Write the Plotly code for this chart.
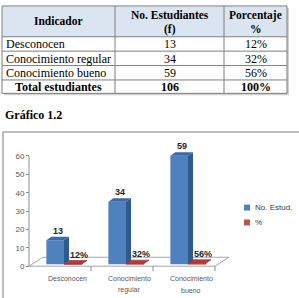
import plotly.graph_objects as go

# ---------------- data ----------------
header_labels = ["Indicador", "No. Estudiantes<br>(f)", "Porcentaje<br>%"]
indicators = ["Desconocen", "Conocimiento regular", "Conocimiento bueno"]
students = [13, 34, 59]
percents = [12, 32, 56]
total_label = "Total estudiantes"
total_students = 106
total_percent = 100

categories = ["Desconocen", "Conocimiento<br>regular", "Conocimiento<br>bueno"]
series_names = ["No. Estud.", "%"]
y_ticks = [0, 10, 20, 30, 40, 50, 60]
caption = "Gráfico 1.2"

# ---------------- geometry helpers ----------------
W, H = 299, 298
def px(x):
    return x / W
def py(y):
    return 1 - y / H

X0PX, XS = 29.0, 62.0      # pixel of x=0, px per category unit
Y0PX, YS = 268.0, 1.85     # pixel of y=0, px per value unit
xr = [-0.1, 3.45]
yr = [-1.5, 66.0]
xdom = [(X0PX + xr[0] * XS) / W, (X0PX + xr[1] * XS) / W]
ydom = [1 - (Y0PX - yr[0] * YS) / H, 1 - (Y0PX - yr[1] * YS) / H]

DX = 5.0 / XS     # depth offset in x units
DY = 3.5 / YS     # depth offset in y units
BASE = 2.0 / YS   # bars start slightly into the floor depth
B_OFF, B_W = -0.22, 0.285
R_OFF, R_W = 0.065, 0.29

centers = [i + 0.5 for i in range(len(categories))]
pct_vals = [p / 100 for p in percents]

SANS = "Liberation Sans, Arial, DejaVu Sans, sans-serif"
SERIF = "Liberation Serif, Times New Roman, DejaVu Serif, serif"

fig = go.Figure()

# front faces
fig.add_trace(go.Bar(x=centers, y=students, base=BASE, offset=B_OFF, width=B_W,
                     marker=dict(color="#4F81BD", line=dict(width=0)),
                     name=series_names[0], showlegend=False, hoverinfo="skip"))
fig.add_trace(go.Bar(x=centers, y=pct_vals, base=BASE, offset=R_OFF, width=R_W,
                     marker=dict(color="#C0504D", line=dict(width=0.6, color="#A13C39")),
                     name=series_names[1], showlegend=False, hoverinfo="skip"))

def faces(vals, off, w):
    side_x, side_y, top_x, top_y = [], [], [], []
    for c, v in zip(centers, vals):
        xl, xrr = c + off, c + off + w
        b, t = BASE, BASE + v
        side_x += [xrr, xrr + DX, xrr + DX, xrr, xrr, None]
        side_y += [b, b + DY, t + DY, t, b, None]
        top_x += [xl, xrr, xrr + DX, xl + DX, xl, None]
        top_y += [t, t, t + DY, t + DY, t, None]
    return side_x, side_y, top_x, top_y

sx, sy, tx, ty = faces(students, B_OFF, B_W)
fig.add_trace(go.Scatter(x=sx, y=sy, fill="toself", mode="lines", line=dict(width=0),
                         fillcolor="#2F5A8E", showlegend=False, hoverinfo="skip"))
fig.add_trace(go.Scatter(x=tx, y=ty, fill="toself", mode="lines", line=dict(width=0),
                         fillcolor="#3A69A6", showlegend=False, hoverinfo="skip"))
sx, sy, tx, ty = faces(pct_vals, R_OFF, R_W)
fig.add_trace(go.Scatter(x=tx, y=ty, fill="toself", mode="lines", line=dict(width=0.6, color="#8E2F2C"),
                         fillcolor="#B03F3B", showlegend=False, hoverinfo="skip"))

shapes = []
annotations = []

# floor (3D base)
FDX, FDY = 14.0 / XS, 9.0 / YS
ncat = len(categories)
floor_path = (f"M 0,0 L {ncat},0 L {ncat + FDX},{FDY} L {FDX},{FDY} Z")
shapes.append(dict(type="path", xref="x", yref="y", path=floor_path,
                   line=dict(color="#A6A6A6", width=1), fillcolor="rgba(0,0,0,0)", layer="below"))
# vertical value axis line
shapes.append(dict(type="line", xref="x", yref="y", x0=0, x1=0, y0=0, y1=max(y_ticks),
                   line=dict(color="#8C8C8C", width=1)))
# category boundary ticks
for i in range(1, ncat + 1):
    xpix = X0PX + i * XS
    shapes.append(dict(type="line", xref="paper", yref="paper", x0=px(xpix), x1=px(xpix),
                       y0=py(Y0PX), y1=py(Y0PX + 5), line=dict(color="#8C8C8C", width=1)))

# value labels
for c, v in zip(centers, students):
    annotations.append(dict(x=c + B_OFF + (B_W + DX) / 2, y=BASE + v + DY, xref="x", yref="y",
                            text=f"<b>{v}</b>", showarrow=False, xanchor="center", yanchor="bottom", yshift=-1,
                            font=dict(family=SANS, size=9, color="#262626")))
for c, p, v in zip(centers, percents, pct_vals):
    annotations.append(dict(x=c + R_OFF + (R_W + DX) / 2 + 0.06, y=BASE + v + DY, xref="x", yref="y",
                            text=f"<b>{p}%</b>", showarrow=False, xanchor="center", yanchor="bottom", yshift=-1,
                            font=dict(family=SANS, size=9, color="#262626")))

# category labels (offset by depth)
for c, lab in zip(centers, categories):
    lines = lab.split("<br>")
    for k, ln in enumerate(lines):
        annotations.append(dict(x=c + 0.115, y=py(280 + 12 * k), xref="x", yref="paper",
                                text=ln, showarrow=False, xanchor="center", yanchor="middle",
                                font=dict(family=SANS, size=7, color="#595959")))

# legend (manual)
leg_colors = ["#4F81BD", "#C0504D"]
for k, (nm, col) in enumerate(zip(series_names, leg_colors)):
    yc = 209 + 15 * k
    shapes.append(dict(type="rect", xref="paper", yref="paper", x0=px(244), x1=px(250),
                       y0=py(yc - 3), y1=py(yc + 3), fillcolor=col, line=dict(width=0)))
    annotations.append(dict(x=px(252.5), y=py(yc), xref="paper", yref="paper", text=nm,
                            showarrow=False, xanchor="left", yanchor="middle",
                            font=dict(family=SANS, size=8, color="#404040")))

# chart frame
shapes.append(dict(type="rect", xref="paper", yref="paper", x0=px(3), x1=px(320),
                   y0=py(133), y1=py(320), line=dict(color="#A6A6A6", width=1.5)))

# caption
annotations.append(dict(x=px(2.5), y=py(116), xref="paper", yref="paper", text=f"<b>{caption}</b>",
                        showarrow=False, xanchor="left", yanchor="middle",
                        font=dict(family=SERIF, size=12, color="#000000")))

# ---------------- table ----------------
col_x = [2, 115, 224, 287]
row_y = [6, 37, 51.5, 66, 80.5, 94]
shapes.append(dict(type="rect", xref="paper", yref="paper", x0=px(col_x[0] + 2), x1=px(col_x[-1] + 2),
                   y0=py(row_y[0] + 2), y1=py(row_y[-1] + 2), fillcolor="#D0D0D0", line=dict(width=0)))
shapes.append(dict(type="rect", xref="paper", yref="paper", x0=px(col_x[0]), x1=px(col_x[-1]),
                   y0=py(row_y[0]), y1=py(row_y[-1]), fillcolor="#FFFFFF", line=dict(width=0)))
shapes.append(dict(type="rect", xref="paper", yref="paper", x0=px(col_x[0]), x1=px(col_x[-1]),
                   y0=py(row_y[0]), y1=py(row_y[1]), fillcolor="#DBE5F1", line=dict(width=0)))
for yv in row_y:
    shapes.append(dict(type="line", xref="paper", yref="paper", x0=px(col_x[0]), x1=px(col_x[-1]),
                       y0=py(yv), y1=py(yv), line=dict(color="#7F7F7F", width=1)))
for xv in col_x:
    shapes.append(dict(type="line", xref="paper", yref="paper", x0=px(xv), x1=px(xv),
                       y0=py(row_y[0]), y1=py(row_y[-1]), line=dict(color="#7F7F7F", width=1)))

def cell_center(ci):
    return (col_x[ci] + col_x[ci + 1]) / 2

def row_center(ri):
    return (row_y[ri] + row_y[ri + 1]) / 2

for ci, hl in enumerate(header_labels):
    parts = hl.split("<br>")
    if len(parts) == 1:
        ys = [row_center(0) - 0.5]
    else:
        ys = [15.5, 29.5]
    for part, yy in zip(parts, ys):
        annotations.append(dict(x=px(cell_center(ci)), y=py(yy), xref="paper", yref="paper",
                                text=f"<b>{part}</b>", showarrow=False, xanchor="center", yanchor="middle",
                                font=dict(family=SERIF, size=11.5, color="#000000")))
for ri, (ind, s, p) in enumerate(zip(indicators, students, percents)):
    yc = py(row_center(ri + 1) + 0.3)
    annotations.append(dict(x=px(col_x[0] + 1.5), y=yc, xref="paper", yref="paper", text=ind,
                            showarrow=False, xanchor="left", yanchor="middle",
                            font=dict(family=SERIF, size=12, color="#000000")))
    annotations.append(dict(x=px(cell_center(1)), y=yc, xref="paper", yref="paper", text=str(s),
                            showarrow=False, xanchor="center", yanchor="middle",
                            font=dict(family=SERIF, size=12, color="#000000")))
    annotations.append(dict(x=px(cell_center(2)), y=yc, xref="paper", yref="paper", text=f"{p}%",
                            showarrow=False, xanchor="center", yanchor="middle",
                            font=dict(family=SERIF, size=12, color="#000000")))
yc = py(row_center(4) + 0.3)
for ci, t in enumerate([total_label, str(total_students), f"{total_percent}%"]):
    annotations.append(dict(x=px(cell_center(ci)), y=yc, xref="paper", yref="paper", text=f"<b>{t}</b>",
                            showarrow=False, xanchor="center", yanchor="middle",
                            font=dict(family=SERIF, size=12, color="#000000")))

fig.update_layout(
    width=W, height=H, margin=dict(l=0, r=0, t=0, b=0),
    paper_bgcolor="white", plot_bgcolor="rgba(0,0,0,0)",
    barmode="overlay", showlegend=False,
    xaxis=dict(domain=xdom, range=xr, showgrid=False, zeroline=False, showline=False,
               showticklabels=False, ticks="", fixedrange=True),
    yaxis=dict(domain=ydom, range=yr, anchor="free", position=px(X0PX), showgrid=False,
               zeroline=False, showline=False, tickvals=y_ticks, ticks="outside", ticklen=3,
               tickcolor="#8C8C8C", tickwidth=1,
               tickfont=dict(family=SANS, size=8, color="#595959"), fixedrange=True),
    shapes=shapes, annotations=annotations,
)

fig.write_html("out.html")
